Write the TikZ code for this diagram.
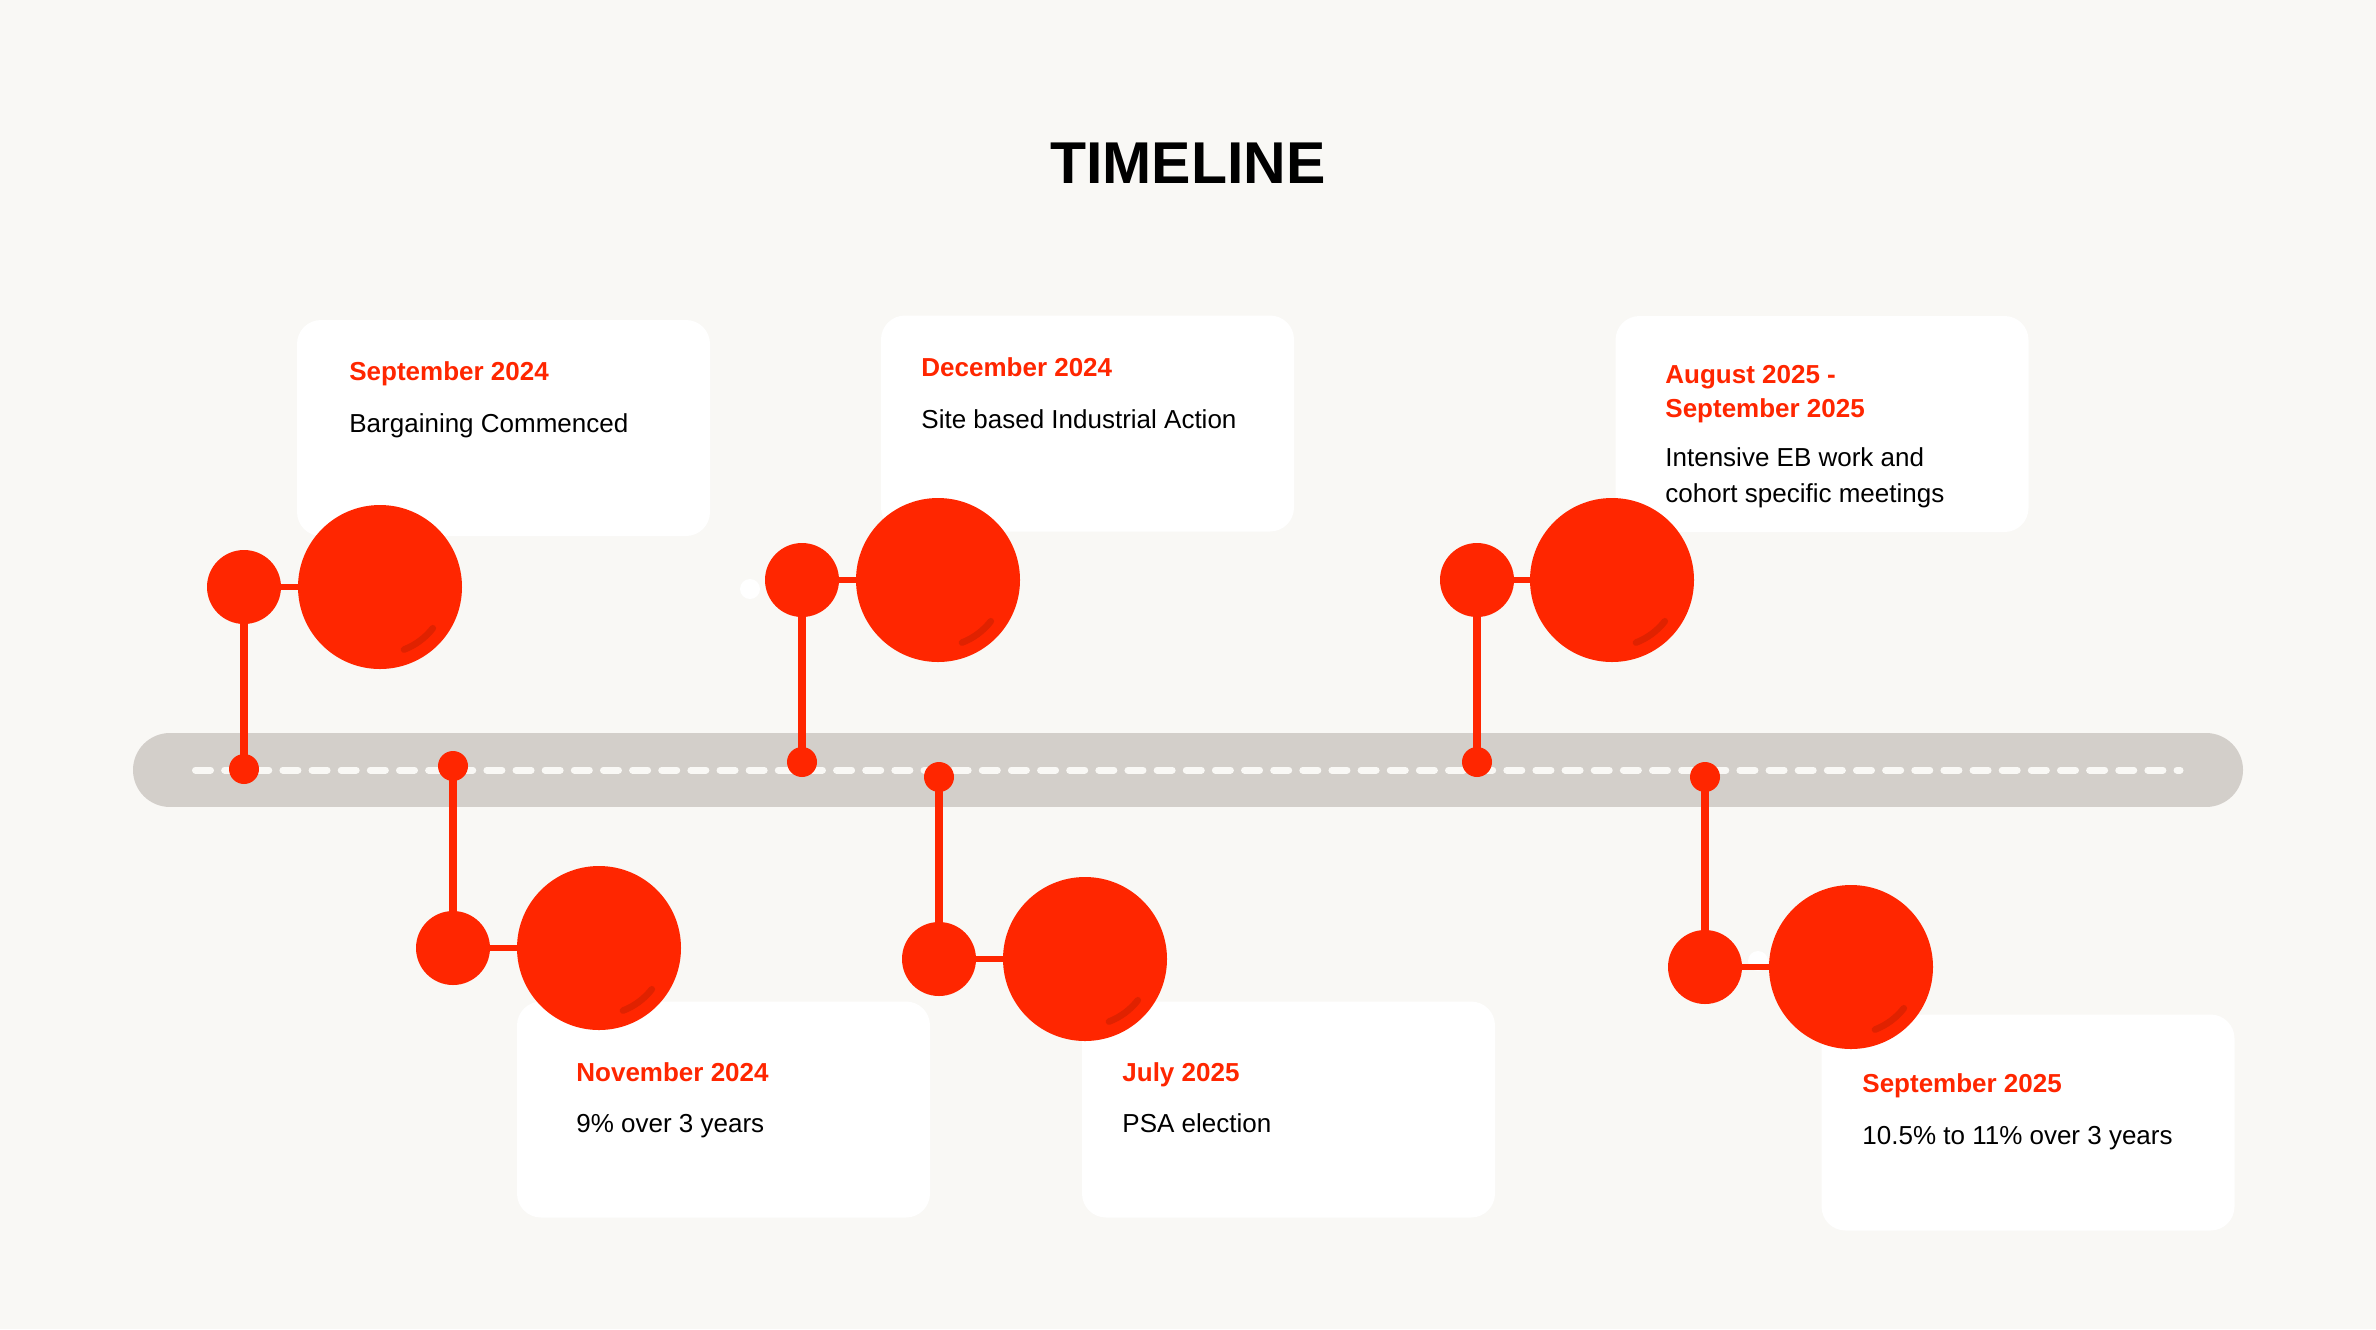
\documentclass[tikz,border=0pt]{standalone}
\usepackage{fontspec}
\setmainfont{Liberation Sans}
\usetikzlibrary{positioning}
\definecolor{pagebg}{HTML}{F9F8F5}
\definecolor{tlred}{HTML}{FF2600}
\definecolor{tlshade}{HTML}{E02200}
\definecolor{trackgray}{HTML}{D3CFCA}
\begin{document}
\begin{tikzpicture}[
  x=0.5pt, y=-0.5pt,
  card/.style={rectangle, fill=white, rounded corners=12pt, minimum width=206.5pt, minimum height=108pt, inner sep=0pt},
  dot/.style={circle, fill=tlred, inner sep=0pt, minimum size=15pt},
  knob/.style={circle, fill=tlred, inner sep=0pt, minimum size=37pt},
  ball/.style={circle, fill=tlred, inner sep=0pt, minimum size=82pt},
  glint/.style={circle, fill=white, inner sep=0pt, minimum size=10pt},
  stem/.style={draw=tlred, line width=4pt, shorten <=-2pt, shorten >=-2pt},
  link/.style={draw=tlred, line width=3.25pt, shorten <=-2pt, shorten >=-2pt},
  shine/.style={draw=tlshade, line width=3.3pt, line cap=round},
  date/.style={anchor=base west, inner sep=0pt, text=tlred, align=left, font=\fontsize{13}{17}\selectfont\bfseries},
  desc/.style={anchor=base west, inner sep=0pt, align=left, font=\fontsize{13}{18}\selectfont}
]
\fill[pagebg] (0,0) rectangle (2376,1329);
\useasboundingbox (0,0) rectangle (2376,1329);

\node[anchor=base, inner sep=0pt, font=\fontsize{29.5}{34}\selectfont\bfseries] (title) at (1188,183) {TIMELINE};

% track with dashed centre line
\coordinate (trackL) at (170,770);
\coordinate (trackR) at (2206,770);
\draw[trackgray, line width=37pt, line cap=round] (trackL) -- (trackR);
\coordinate (dashL) at (195.5,770);
\coordinate (dashR) at (2180,770);
\draw[pagebg, line width=3.5pt, line cap=round, dash pattern=on 7.5pt off 7.07pt] (dashL) -- (dashR);

% cards
\node[card] (card1) at (503.5,428) {};
\node[card] (card2) at (1087.5,423.5) {};
\node[card] (card3) at (1822,424) {};
\node[card] (card4) at (723.5,1109.5) {};
\node[card] (card5) at (1288.5,1109.5) {};
\node[card] (card6) at (2028,1122.5) {};

% two-line nodes sit on the baseline of their last line
\node[date] (date1) at (349,380) {September 2024};
\node[desc] (desc1) at (349,432) {Bargaining Commenced};
\node[date] (date2) at (921,376) {December 2024};
\node[desc] (desc2) at (921,428) {Site based Industrial Action};
\node[date] (date3) at (1665,417) {August 2025 -\\September 2025};
\node[desc] (desc3) at (1665,502) {Intensive EB work and\\cohort specific meetings};
\node[date] (date4) at (576,1081) {November 2024};
\node[desc] (desc4) at (576,1132) {9\% over 3 years};
\node[date] (date5) at (1122,1081) {July 2025};
\node[desc] (desc5) at (1122,1132) {PSA election};
\node[date] (date6) at (1862,1092) {September 2025};
\node[desc] (desc6) at (1862,1144) {10.5\% to 11\% over 3 years};

\node[glint] (glint1) at (750,589) {};
\node[glint] (glint2) at (1758,961) {};

% markers
\node[dot] (dot1) at (244,769) {};
\node[knob] (knob1) at (244,587) {};
\node[ball] (ball1) at (380,587) {};
\node[dot] (dot2) at (453,766) {};
\node[knob] (knob2) at (453,948) {};
\node[ball] (ball2) at (599,948) {};
\node[dot] (dot3) at (802,762) {};
\node[knob] (knob3) at (802,580) {};
\node[ball] (ball3) at (938,580) {};
\node[dot] (dot4) at (939,777) {};
\node[knob] (knob4) at (939,959) {};
\node[ball] (ball4) at (1085,959) {};
\node[dot] (dot5) at (1477,762) {};
\node[knob] (knob5) at (1477,580) {};
\node[ball] (ball5) at (1612,580) {};
\node[dot] (dot6) at (1705,777) {};
\node[knob] (knob6) at (1705,967) {};
\node[ball] (ball6) at (1851,967) {};

\foreach \i in {1,...,6}
  \draw[shine] ([shift={(38:67)}]ball\i.center) arc (38:69:67);

\foreach \i in {1,...,6} {
  \draw[stem] (dot\i) -- (knob\i);
  \draw[link] (knob\i) -- (ball\i);
}
\end{tikzpicture}
\end{document}
